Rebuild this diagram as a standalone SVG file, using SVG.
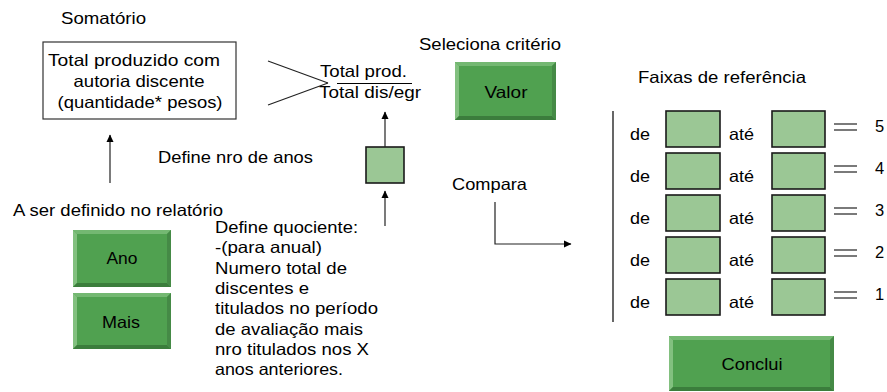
<svg xmlns="http://www.w3.org/2000/svg" width="887" height="392" viewBox="0 0 887 392">
<style>
text{font-family:"Liberation Sans",Arial,sans-serif;font-size:16.5px;fill:#000}
.mid{text-anchor:middle}
.ln{stroke:#222;stroke-width:1.2;fill:none}
.box{fill:#9bc795;stroke:#1a1a1a;stroke-width:1.6}
.bf{fill:#50a150}.bt{fill:#74b872}.bl{fill:#82c07f}.bb{fill:#3b7d3c}.br{fill:#458a46}
</style>
<defs>
<marker id="ah" markerWidth="8" markerHeight="8" refX="7" refY="4" orient="auto" markerUnits="userSpaceOnUse">
<path d="M0,0.5 L7.5,4 L0,7.5 Z" fill="#000"/>
</marker>
</defs>
<rect width="887" height="392" fill="#fff"/>

<g id="somatorio-label"><text x="61" y="24" textLength="85" lengthAdjust="spacingAndGlyphs">Somatório</text></g>

<g id="total-produzido">
<rect x="43" y="42" width="193" height="77" fill="#fff" stroke="#333" stroke-width="1.2"/>
<text x="134" y="66" class="mid" textLength="172" lengthAdjust="spacingAndGlyphs">Total produzido com</text>
<text x="139" y="87" class="mid" textLength="131" lengthAdjust="spacingAndGlyphs">autoria discente</text>
<text x="140" y="108" class="mid" textLength="165" lengthAdjust="spacingAndGlyphs">(quantidade* pesos)</text>
</g>

<g id="fracao">
<text x="320" y="77" textLength="87" lengthAdjust="spacingAndGlyphs">Total prod.</text>
<line x1="337" y1="83.5" x2="412" y2="83.5" stroke="#000" stroke-width="1"/>
<text x="319" y="98" textLength="102" lengthAdjust="spacingAndGlyphs">Total dis/egr</text>
</g>

<g id="seleciona-label"><text x="419" y="50" textLength="142" lengthAdjust="spacingAndGlyphs">Seleciona critério</text></g>

<g id="valor">
<rect x="455" y="62" width="101" height="58" class="bf"/>
<polygon points="455,62 556,62 552,66 459,66" class="bt"/>
<polygon points="455,62 459,66 459,116 455,120" class="bl"/>
<polygon points="455,120 459,116 552,116 556,120" class="bb"/>
<polygon points="556,62 556,120 552,116 552,66" class="br"/>
<text x="506" y="98" class="mid" textLength="43" lengthAdjust="spacingAndGlyphs">Valor</text>
</g>

<g id="define-anos-label"><text x="158" y="163" textLength="155" lengthAdjust="spacingAndGlyphs">Define nro de anos</text></g>

<g id="quociente-box"><rect x="366" y="147" width="38" height="36" class="box"/></g>

<g id="relatorio-label"><text x="13" y="216" textLength="210" lengthAdjust="spacingAndGlyphs">A ser definido no relatório</text></g>

<g id="ano">
<rect x="73" y="230" width="98" height="57" class="bf"/>
<polygon points="73,230 171,230 167,234 77,234" class="bt"/>
<polygon points="73,230 77,234 77,283 73,287" class="bl"/>
<polygon points="73,287 77,283 167,283 171,287" class="bb"/>
<polygon points="171,230 171,287 167,283 167,234" class="br"/>
<text x="122" y="264" class="mid" textLength="31" lengthAdjust="spacingAndGlyphs">Ano</text>
</g>

<g id="mais">
<rect x="73" y="293" width="98" height="56" class="bf"/>
<polygon points="73,293 171,293 167,297 77,297" class="bt"/>
<polygon points="73,293 77,297 77,345 73,349" class="bl"/>
<polygon points="73,349 77,345 167,345 171,349" class="bb"/>
<polygon points="171,293 171,349 167,345 167,297" class="br"/>
<text x="121" y="328" class="mid" textLength="38" lengthAdjust="spacingAndGlyphs">Mais</text>
</g>

<g id="quociente-texto">
<text x="215" y="233" textLength="143" lengthAdjust="spacingAndGlyphs">Define quociente:</text>
<text x="215" y="253.3" textLength="107" lengthAdjust="spacingAndGlyphs">-(para anual)</text>
<text x="215" y="273.6" textLength="132" lengthAdjust="spacingAndGlyphs">Numero total de</text>
<text x="215" y="293.9" textLength="94" lengthAdjust="spacingAndGlyphs">discentes e</text>
<text x="215" y="314.2" textLength="163" lengthAdjust="spacingAndGlyphs">titulados no período</text>
<text x="215" y="334.5" textLength="148" lengthAdjust="spacingAndGlyphs">de avaliação mais</text>
<text x="215" y="354.8" textLength="154" lengthAdjust="spacingAndGlyphs">nro titulados nos X</text>
<text x="215" y="375" textLength="128" lengthAdjust="spacingAndGlyphs">anos anteriores.</text>
</g>

<g id="compara-label"><text x="452" y="190" textLength="75" lengthAdjust="spacingAndGlyphs">Compara</text></g>

<g id="faixas">
<text x="638" y="83" textLength="168" lengthAdjust="spacingAndGlyphs">Faixas de referência</text>
<line x1="613" y1="111" x2="613" y2="322" stroke="#000" stroke-width="1.2"/>
</g>

<g id="faixa-5">
<text x="630" y="140" textLength="20" lengthAdjust="spacingAndGlyphs">de</text>
<rect x="666" y="111" width="54" height="36" class="box"/>
<text x="729" y="140" textLength="25" lengthAdjust="spacingAndGlyphs">até</text>
<rect x="772" y="111" width="53" height="36" class="box"/>
<line x1="834" y1="124" x2="857" y2="124" class="ln"/><line x1="834" y1="130" x2="857" y2="130" class="ln"/>
<text x="875" y="132">5</text>
</g>
<g id="faixa-4">
<text x="630" y="182" textLength="20" lengthAdjust="spacingAndGlyphs">de</text>
<rect x="666" y="153" width="54" height="36" class="box"/>
<text x="729" y="182" textLength="25" lengthAdjust="spacingAndGlyphs">até</text>
<rect x="772" y="153" width="53" height="36" class="box"/>
<line x1="834" y1="166" x2="857" y2="166" class="ln"/><line x1="834" y1="172" x2="857" y2="172" class="ln"/>
<text x="875" y="174">4</text>
</g>
<g id="faixa-3">
<text x="630" y="224" textLength="20" lengthAdjust="spacingAndGlyphs">de</text>
<rect x="666" y="195" width="54" height="36" class="box"/>
<text x="729" y="224" textLength="25" lengthAdjust="spacingAndGlyphs">até</text>
<rect x="772" y="195" width="53" height="36" class="box"/>
<line x1="834" y1="208" x2="857" y2="208" class="ln"/><line x1="834" y1="214" x2="857" y2="214" class="ln"/>
<text x="875" y="216">3</text>
</g>
<g id="faixa-2">
<text x="630" y="266" textLength="20" lengthAdjust="spacingAndGlyphs">de</text>
<rect x="666" y="237" width="54" height="36" class="box"/>
<text x="729" y="266" textLength="25" lengthAdjust="spacingAndGlyphs">até</text>
<rect x="772" y="237" width="53" height="36" class="box"/>
<line x1="834" y1="250" x2="857" y2="250" class="ln"/><line x1="834" y1="256" x2="857" y2="256" class="ln"/>
<text x="875" y="258">2</text>
</g>
<g id="faixa-1">
<text x="630" y="308" textLength="20" lengthAdjust="spacingAndGlyphs">de</text>
<rect x="666" y="279" width="54" height="36" class="box"/>
<text x="729" y="308" textLength="25" lengthAdjust="spacingAndGlyphs">até</text>
<rect x="772" y="279" width="53" height="36" class="box"/>
<line x1="834" y1="292" x2="857" y2="292" class="ln"/><line x1="834" y1="298" x2="857" y2="298" class="ln"/>
<text x="875" y="300">1</text>
</g>

<g id="conclui">
<rect x="669" y="336" width="165" height="55" class="bf"/>
<polygon points="669,336 834,336 830,340 673,340" class="bt"/>
<polygon points="669,336 673,340 673,387 669,391" class="bl"/>
<polygon points="669,391 673,387 830,387 834,391" class="bb"/>
<polygon points="834,336 834,391 830,387 830,340" class="br"/>
<text x="752" y="370" class="mid" textLength="61" lengthAdjust="spacingAndGlyphs">Conclui</text>
</g>

<g id="connectors" class="ln">
<line x1="268" y1="61" x2="328" y2="83"/>
<line x1="268" y1="105" x2="328" y2="83"/>
<line x1="110" y1="183" x2="110" y2="135" marker-end="url(#ah)"/>
<line x1="385" y1="147" x2="385" y2="112" marker-end="url(#ah)"/>
<line x1="385" y1="226" x2="385" y2="191" marker-end="url(#ah)"/>
<polyline points="495,202 495,244 571,244" marker-end="url(#ah)"/>
</g>
</svg>
